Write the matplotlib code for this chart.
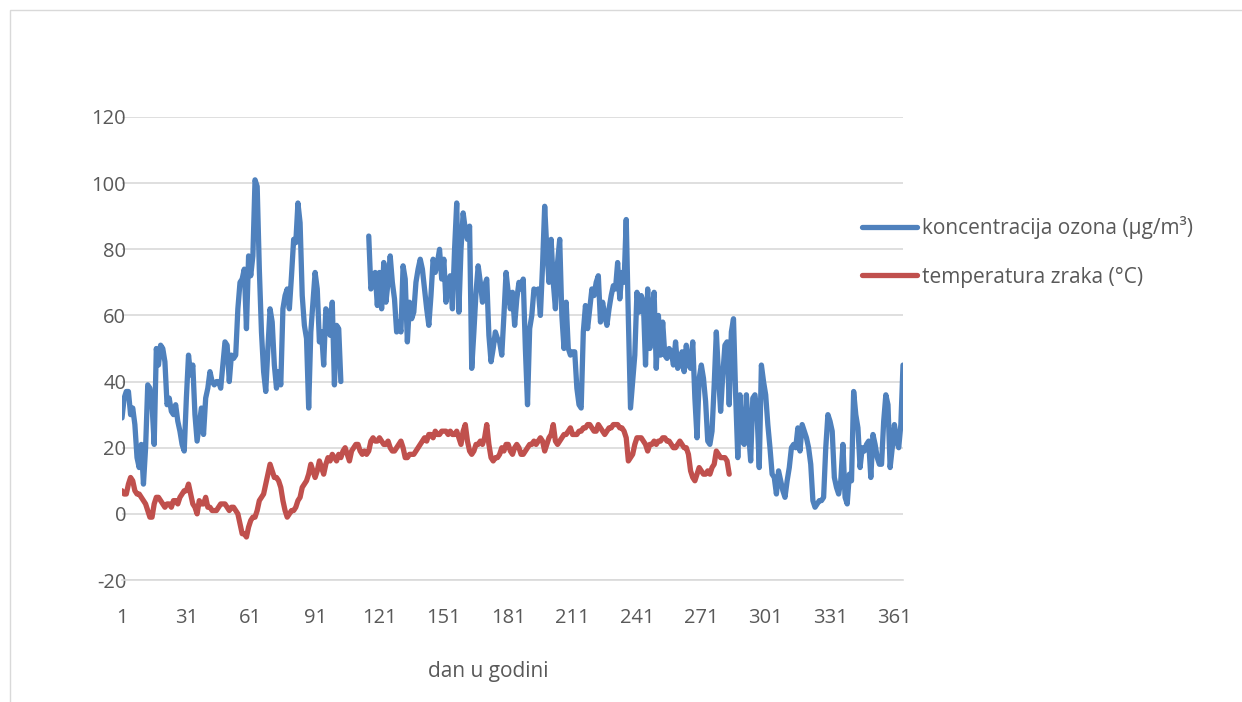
import matplotlib
matplotlib.use('Agg')
import matplotlib.pyplot as plt
import numpy as np
from matplotlib.patches import Rectangle

# ozone concentration, days 1..365 (None = missing)
ozon = [29, 35, 37, 37, 30, 32, 27, 17, 14, 21,
        9, 20, 39, 38, 33, 21, 50, 45, 51, 50,
        46, 33, 35, 31, 30, 33, 28, 25, 21, 19,
        35, 48, 42, 45, 30, 22, 27, 32, 24, 35,
        38, 43, 40, 39, 40, 40, 38, 45, 52, 51,
        40, 48, 47, 48, 62, 70, 71, 74, 56, 78,
        72, 78, 101, 99, 74, 55, 43, 37, 50, 62,
        58, 45, 38, 43, 39, 62, 66, 68, 62, 72,
        83, 82, 94, 88, 66, 57, 53, 32, 55, 64,
        73, 68, 52, 55, 45, 62, 61, 54, 64, 39,
        57, 56, 40, None, None, None, None, None, None, None,
        None, None, None, None, None, 84, 68, 70, 73, 63,
        73, 62, 76, 64, 70, 78, 70, 65, 55, 58,
        55, 75, 71, 52, 64, 59, 61, 70, 74, 77,
        74, 68, 62, 57, 66, 77, 73, 76, 80, 71,
        77, 64, 70, 72, 62, 80, 94, 61, 80, 91,
        86, 83, 87, 44, 55, 67, 75, 70, 64, 69,
        71, 54, 46, 50, 55, 53, 52, 48, 60, 73,
        67, 62, 67, 57, 65, 70, 68, 71, 50, 33,
        56, 60, 68, 67, 68, 60, 75, 93, 80, 70,
        83, 70, 62, 76, 83, 60, 50, 64, 50, 48,
        49, 49, 38, 33, 32, 55, 63, 56, 62, 68,
        66, 70, 72, 58, 64, 60, 57, 62, 66, 69,
        68, 76, 65, 73, 70, 89, 59, 32, 40, 48,
        67, 61, 66, 64, 45, 68, 50, 62, 67, 44,
        60, 48, 58, 48, 47, 50, 49, 45, 52, 44,
        45, 49, 43, 51, 45, 44, 52, 35, 23, 41,
        45, 41, 34, 22, 21, 25, 39, 55, 42, 31,
        42, 51, 52, 33, 55, 59, 36, 17, 36, 22,
        21, 36, 25, 16, 35, 36, 30, 14, 45, 40,
        36, 27, 20, 12, 11, 6, 13, 10, 7, 5,
        10, 14, 20, 21, 20, 26, 19, 27, 25, 23,
        20, 15, 4, 2, 3, 4, 4, 5, 20, 30,
        28, 25, 11, 8, 6, 10, 21, 5, 3, 12,
        10, 37, 30, 26, 14, 20, 19, 21, 22, 11,
        24, 21, 17, 15, 15, 28, 36, 33, 14, 20,
        27, 22, 20, 27, 45]

# air temperature, days 1..284
temp = [7, 6, 6, 9, 11, 10, 7, 6, 6, 5,
        4, 3, 1, -1, -1, 3, 5, 5, 4, 3,
        2, 3, 3, 2, 4, 4, 3, 5, 6, 7,
        7, 9, 6, 3, 2, 0, 4, 3, 3, 5,
        2, 2, 1, 1, 1, 2, 3, 3, 3, 2,
        1, 2, 2, 1, 0, -3, -6, -6, -7, -4,
        -2, -1, -1, 1, 4, 5, 6, 9, 12, 15,
        13, 11, 11, 10, 8, 4, 1, -1, 0, 1,
        1, 2, 4, 5, 8, 9, 10, 12, 15, 13,
        11, 13, 16, 14, 12, 15, 17, 16, 18, 17,
        16, 18, 17, 19, 20, 18, 16, 19, 20, 21,
        21, 19, 18, 19, 18, 19, 22, 23, 22, 22,
        23, 22, 21, 21, 22, 20, 19, 19, 20, 21,
        22, 20, 17, 17, 18, 18, 18, 19, 20, 21,
        22, 23, 22, 24, 24, 23, 25, 24, 24, 25,
        25, 25, 24, 25, 24, 24, 25, 23, 21, 25,
        27, 22, 19, 18, 19, 21, 21, 22, 21, 23,
        27, 21, 17, 16, 17, 17, 18, 20, 19, 21,
        21, 19, 18, 20, 21, 20, 18, 18, 19, 20,
        21, 21, 22, 21, 22, 23, 22, 19, 21, 23,
        24, 27, 22, 21, 22, 23, 24, 24, 25, 26,
        24, 24, 24, 25, 25, 26, 26, 27, 27, 26,
        25, 25, 27, 26, 25, 24, 25, 26, 26, 27,
        27, 27, 26, 26, 25, 23, 16, 17, 18, 21,
        23, 23, 23, 22, 21, 19, 21, 21, 22, 21,
        22, 22, 23, 23, 22, 22, 21, 20, 20, 21,
        22, 21, 20, 20, 18, 13, 11, 10, 12, 14,
        13, 12, 12, 13, 12, 14, 15, 19, 18, 17,
        17, 17, 16, 12]

tick_days = list(range(1, 366, 30))

dani = np.arange(1, len(ozon) + 1)
ozon_arr = np.array([np.nan if v is None else v for v in ozon], dtype=float)
dani_t = np.arange(1, len(temp) + 1)

plt.rcParams['font.family'] = ['Open Sans', 'DejaVu Sans']
plt.rcParams['axes.unicode_minus'] = False

fig = plt.figure(figsize=(12.42, 7.02), dpi=100)
ax = fig.add_axes([122 / 1242, 1 - 580 / 702, (903 - 122) / 1242, (580 - 117) / 702])

l1, = ax.plot(dani, ozon_arr, color='#4f81bd', lw=3.8, solid_joinstyle='round',
              solid_capstyle='round', label='koncentracija ozona (µg/m³)')
l2, = ax.plot(dani_t, temp, color='#c0504d', lw=3.8, solid_joinstyle='round',
              solid_capstyle='round', label='temperatura zraka (°C)')

ax.set_xlim(1, 365)
ax.set_ylim(-20, 120)
ax.set_yticks(range(-20, 121, 20))
ax.set_xticks(tick_days)
ax.set_xticklabels([str(d) for d in tick_days])
ax.grid(axis='y', color='#d9d9d9', lw=1.2)
ax.set_axisbelow(True)
for s in ['top', 'right', 'left']:
    ax.spines[s].set_visible(False)
ax.spines['bottom'].set_color('#d9d9d9')
ax.spines['bottom'].set_linewidth(1.2)
ax.tick_params(length=0, labelsize=14.5, colors='#595959')
ax.tick_params(axis='x', pad=20)
ax.tick_params(axis='y', pad=-3)

fig.text(488 / 1242, 1 - 672 / 702, 'dan u godini', ha='center', va='center',
         fontsize=15, color='#595959')

fig.legend(handles=[l1, l2], loc='center left', bbox_to_anchor=(843 / 1242, 1 - 252 / 702),
           frameon=False, fontsize=15, handlelength=2.65, handletextpad=0.25,
           labelspacing=1.3, labelcolor='#595959')

fig.patches.append(Rectangle((10 / 1242, -0.1), 1.2, 1 - 10 / 702 + 0.1,
                             transform=fig.transFigure, fill=False,
                             edgecolor='#d9d9d9', lw=1))

fig.savefig('out.png', dpi=100)
